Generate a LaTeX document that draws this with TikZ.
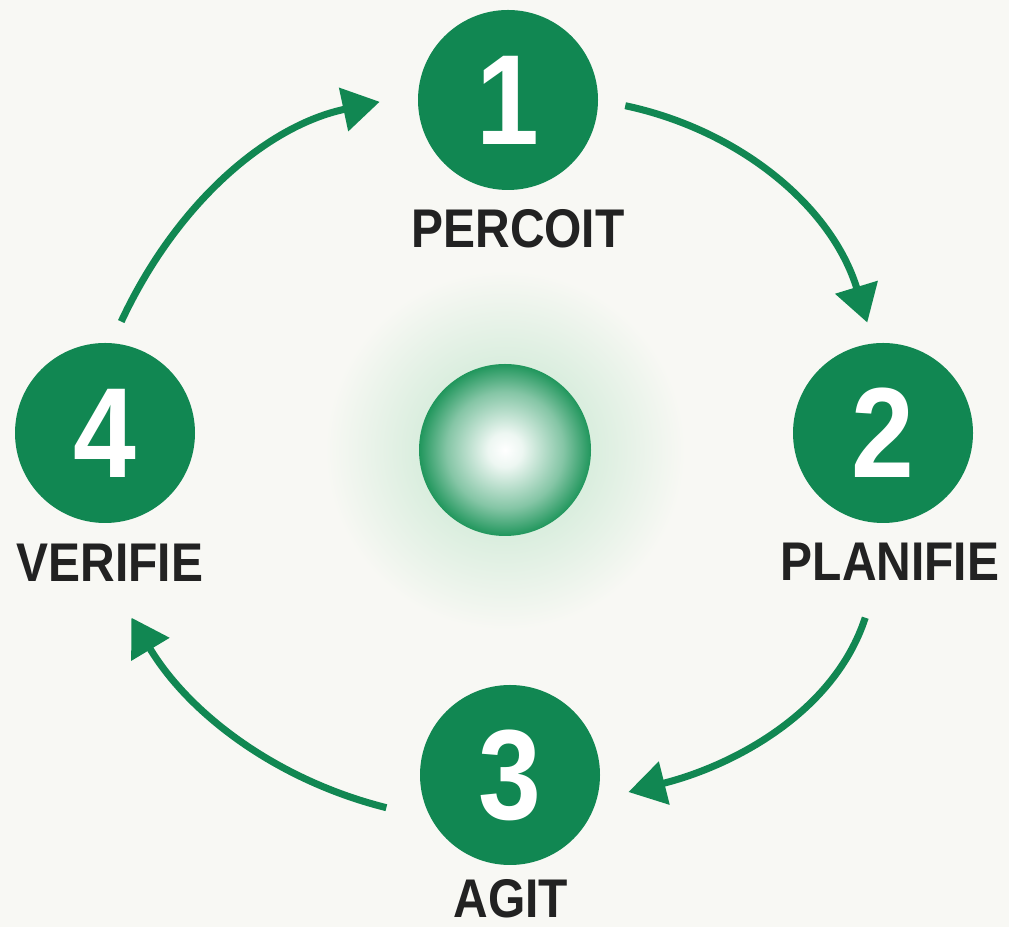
\documentclass[tikz,border=0pt]{standalone}
\usepackage{fontspec}
\usetikzlibrary{arrows.meta}
\newfontfamily\cyclefont[FakeStretch=0.88]{Liberation Sans}
\definecolor{cyclegreen}{RGB}{17,135,82}
\definecolor{spheregreen}{RGB}{32,150,92}
\definecolor{mint}{RGB}{190,228,202}
\definecolor{paper}{RGB}{248,248,244}
\definecolor{ink}{RGB}{34,34,34}
\pgfdeclareradialshading{spheregrad}{\pgfpoint{0bp}{0bp}}{color(0bp)=(white); color(5bp)=(white!92!spheregreen); color(17bp)=(white!45!spheregreen); color(25bp)=(spheregreen); color(50bp)=(spheregreen)}

\begin{document}
\begin{tikzpicture}[
  ring/.style={circle,fill=cyclegreen,minimum size=3.6cm,inner sep=0pt,text=white,
    font=\cyclefont\bfseries\fontsize{73}{73}\selectfont},
  lbl/.style={inner sep=0pt,text=ink,font=\cyclefont\bfseries\fontsize{31}{31}\selectfont},
  flow/.style={-{Triangle[length=0.74cm,width=0.86cm]},cyclegreen,line width=4pt}
]
\fill[paper] (0,0) rectangle (20.18,18.54);
\useasboundingbox (0,0) rectangle (20.18,18.54);

% glow and sphere in the middle
\shade[inner color=mint,outer color=paper] (10.10,9.54) circle (3.6);
\node[circle,minimum size=3.44cm,inner sep=0pt,shade,shading=spheregrad] (core) at (10.10,9.54) {};

\node[ring] (c1) at (10.16,16.54) {1};
\node[ring] (c2) at (17.66,9.88) {2};
\node[ring] (c3) at (10.20,3.04) {3};
\node[ring] (c4) at (2.10,9.88) {4};

\node[lbl] (l1) at (10.36,13.96) {PERCOIT};
\node[lbl] (l2) at (17.80,7.30) {PLANIFIE};
\node[lbl] (l3) at (10.22,0.56) {AGIT};
\node[lbl] (l4) at (2.20,7.28) {VERIFIE};

\path[flow] (c1.east) edge[out=-12,in=107,shorten <=0.55cm,shorten >=0.43cm] (c2.96);
\path[flow] (l2.-124) edge[out=-108,in=14,shorten <=0.77cm,shorten >=0.65cm] (c3.-16);
\path[flow] (c3.-151) edge[out=166,in=-59,shorten <=0.92cm,shorten >=0.83cm] (l4.south);
\path[flow] (c4.86) edge[out=65,in=-168,shorten <=0.47cm,shorten >=0.78cm] (c1.176);
\end{tikzpicture}
\end{document}
